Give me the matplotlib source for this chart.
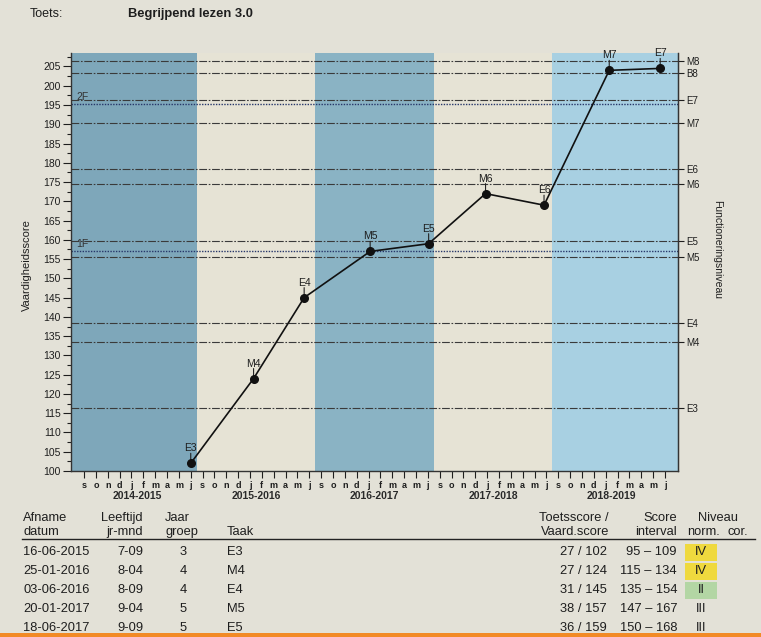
import datetime as dt
import matplotlib
matplotlib.use('Agg')
import matplotlib.pyplot as plt
from matplotlib.patches import Rectangle
from matplotlib.lines import Line2D
from matplotlib.ticker import MultipleLocator

W, H = 761, 637
plt.rcParams['font.family'] = ['Liberation Sans', 'DejaVu Sans']

# ---------------- data ----------------
title_label = 'Toets:'
title = 'Begrijpend lezen 3.0'

school_years = ['2014-2015', '2015-2016', '2016-2017', '2017-2018', '2018-2019']
shaded_years = [0, 2, 4]
month_labels = ['s', 'o', 'n', 'd', 'j', 'f', 'm', 'a', 'm', 'j']

level_names = ['M8', 'B8', 'E7', 'M7', 'E6', 'M6', 'E5', 'M5', 'E4', 'M4', 'E3']
level_scores = [206.5, 203.3, 196.4, 190.3, 178.5, 174.5, 159.7, 155.6, 138.4, 133.4, 116.4]
ref_names = ['1F', '2F']
ref_scores = [157.1, 195.2]

test_tasks = ['E3', 'M4', 'E4', 'M5', 'E5', 'M6', 'E6', 'M7', 'E7']
# last four dates
test_dates = ['16-06-2015', '25-01-2016', '03-06-2016', '20-01-2017', '18-06-2017',
              '12-01-2018', '10-06-2018', '25-01-2019', '04-06-2019']
test_scores = [102, 124, 145, 157, 159, 172, 169, 204, 204.5]

tbl_dates = ['16-06-2015', '25-01-2016', '03-06-2016', '20-01-2017', '18-06-2017']
tbl_age = ['7-09', '8-04', '8-09', '9-04', '9-09']
tbl_group = ['3', '4', '4', '5', '5']
tbl_task = ['E3', 'M4', 'E4', 'M5', 'E5']
tbl_score = ['27 / 102', '27 / 124', '31 / 145', '38 / 157', '36 / 159']
tbl_interval = ['95 – 109', '115 – 134', '135 – 154', '147 – 167', '150 – 168']
tbl_level = ['IV', 'IV', 'II', 'III', 'III']
level_colors = {'IV': '#efd93e', 'II': '#b3d6a4'}

# ---------------- helpers ----------------
def date_pos(s):
    d = dt.datetime.strptime(s, '%d-%m-%Y')
    start = d.year if d.month >= 9 else d.year - 1
    idx = start - 2014
    off = (d.month - 9) % 12
    return 10 * idx + off + (d.day - 1) / 30.0

xs = [date_pos(s) for s in test_dates]

fig = plt.figure(figsize=(W / 100, H / 100), dpi=100)
fig.patch.set_facecolor('#e3e1d7')

def ft(x, y, s, **kw):
    kw.setdefault('color', '#1e1e1e')
    kw.setdefault('va', 'center')
    fig.text(x / W, 1 - y / H, s, **kw)

ax_l, ax_r, ax_b, ax_t = 71, 678, 471, 53
ax = fig.add_axes([ax_l / W, 1 - ax_b / H, (ax_r - ax_l) / W, (ax_b - ax_t) / H])
ax.set_facecolor('#e6e3d5')
xmin, xmax = -0.6, 50.6
ymin, ymax = 100, 208.5
ax.set_xlim(xmin, xmax)
ax.set_ylim(ymin, ymax)

band_colors = {0: '#7ea7ba', 2: '#8ab3c4', 4: '#a8d0e2'}
for i in shaded_years:
    lo = xmin if i == 0 else 10 * i
    hi = xmax if i == len(school_years) - 1 else 10 * i + 10
    ax.axvspan(lo, hi, color=band_colors[i], lw=0, zorder=0)

for sc in level_scores:
    ax.axhline(sc, color='#3a3a3a', lw=0.8, dashes=(7, 1.5, 1.5, 1.5), zorder=1)
for name, sc in zip(ref_names, ref_scores):
    ax.axhline(sc, color='#27376a', lw=1.0, linestyle=(0, (1, 1)), zorder=1)
    ax.annotate(name, xy=(0, sc), xycoords=('axes fraction', 'data'),
                xytext=(5, 2), textcoords='offset pixels', ha='left', va='bottom',
                fontsize=7.5, color='#333333')

ax.plot(xs, test_scores, '-', color='#111111', lw=1.2, marker='o', ms=5.5, zorder=5)
for t, x, y in zip(test_tasks, xs, test_scores):
    ax.annotate('', xy=(x, y), xytext=(0, 10), textcoords='offset pixels',
                arrowprops=dict(arrowstyle='-', lw=0.8, color='#222222',
                                shrinkA=0, shrinkB=0), zorder=4)
    ax.annotate(t, xy=(x, y), xytext=(0, 15), textcoords='offset pixels',
                ha='center', va='center', fontsize=7.5, color='#1e1e1e', zorder=6)

for s in ['top']:
    ax.spines[s].set_visible(False)
for s in ['left', 'right', 'bottom']:
    ax.spines[s].set_color('#333333')
    ax.spines[s].set_linewidth(1.0)

ax.yaxis.set_major_locator(MultipleLocator(5))
ax.yaxis.set_minor_locator(MultipleLocator(2.5))
ax.set_yticks(list(range(100, 206, 5)))
ax.tick_params(axis='y', which='major', length=5.5, width=0.8, labelsize=7.5, pad=2,
               colors='#1e1e1e')
ax.tick_params(axis='y', which='minor', length=3, width=0.8, colors='#1e1e1e')

xt = [10 * k + i + 0.5 for k in range(len(school_years)) for i in range(len(month_labels))]
ax.set_xticks(xt)
ax.set_xticklabels(month_labels * len(school_years))
ax.tick_params(axis='x', length=5, width=0.8, labelsize=6.5, pad=2, colors='#1e1e1e')
for lab in ax.get_xticklabels():
    lab.set_fontweight('bold')
for k, yr in enumerate(school_years):
    ax.annotate(yr, xy=(10 * k + 5, 0), xycoords=('data', 'axes fraction'),
                xytext=(0, -25), textcoords='offset pixels', ha='center', va='center',
                fontsize=7.5, fontweight='bold', color='#2a2a2a')

ax2 = ax.twinx()
ax2.set_ylim(ymin, ymax)
ax2.set_yticks(level_scores)
ax2.set_yticklabels(level_names)
ax2.tick_params(axis='y', length=4, width=0.8, labelsize=7, pad=2, colors='#1e1e1e')
ax2.spines['top'].set_visible(False)
ax2.spines['right'].set_color('#333333')
ax2.spines['left'].set_visible(False)
ax2.spines['bottom'].set_visible(False)

ft(27, 265, 'Vaardigheidsscore', rotation=90, ha='center', fontsize=8)
ft(717, 249, 'Functioneringsniveau', rotation=-90, ha='center', fontsize=7.5)

ft(30, 14, title_label, ha='left', fontsize=9)
ft(128, 14, title, ha='left', fontsize=9.3, fontweight='bold')

# ---------------- table ----------------
fs = 9.3
h1, h2 = 518, 532
ft(23, h1, 'Afname', ha='left', fontsize=fs)
ft(23, h2, 'datum', ha='left', fontsize=fs)
ft(143, h1, 'Leeftijd', ha='right', fontsize=fs)
ft(143, h2, 'jr-mnd', ha='right', fontsize=fs)
ft(165, h1, 'Jaar', ha='left', fontsize=fs)
ft(165, h2, 'groep', ha='left', fontsize=fs)
ft(227, h2, 'Taak', ha='left', fontsize=fs)
ft(609, h1, 'Toetsscore /', ha='right', fontsize=fs)
ft(609, h2, 'Vaard.score', ha='right', fontsize=fs)
ft(677, h1, 'Score', ha='right', fontsize=fs)
ft(677, h2, 'interval', ha='right', fontsize=fs)
ft(718, h1, 'Niveau', ha='center', fontsize=fs)
ft(687, h2, 'norm.', ha='left', fontsize=fs)
ft(727, h2, 'cor.', ha='left', fontsize=fs)
fig.add_artist(Line2D([22 / W, 755 / W], [1 - 539 / H, 1 - 539 / H],
                      color='#222222', lw=1.0))

row_y0, row_dy = 552, 19
for r in range(len(tbl_dates)):
    y = row_y0 + r * row_dy
    ft(23, y, tbl_dates[r], ha='left', fontsize=fs)
    ft(143, y, tbl_age[r], ha='right', fontsize=fs)
    ft(183, y, tbl_group[r], ha='center', fontsize=fs)
    ft(227, y, tbl_task[r], ha='left', fontsize=fs)
    ft(607, y, tbl_score[r], ha='right', fontsize=fs)
    ft(677, y, tbl_interval[r], ha='right', fontsize=fs)
    c = level_colors.get(tbl_level[r])
    if c:
        fig.add_artist(Rectangle((685 / W, 1 - (y + 8.5) / H), 32 / W, 17 / H,
                                 facecolor=c, edgecolor='none', zorder=0))
    ft(701, y, tbl_level[r], ha='center', fontsize=fs)

fig.add_artist(Rectangle((0, 0), 1, 4 / H, facecolor='#f28a26', edgecolor='none', zorder=10))

fig.savefig('out.png', dpi=100, facecolor=fig.get_facecolor())
